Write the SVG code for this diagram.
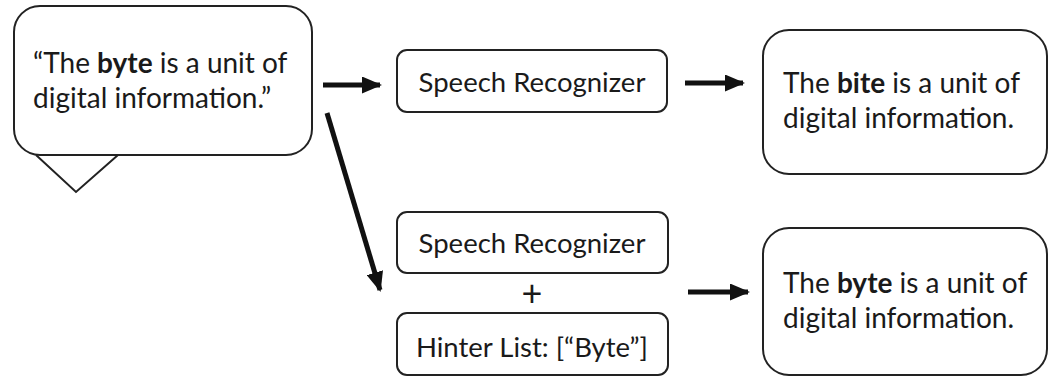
<svg xmlns="http://www.w3.org/2000/svg" width="1050" height="377" viewBox="0 0 1050 377">
<style>
.box{fill:#fff;stroke:#222;stroke-width:2}
.t{font-family:Lato,"Open Sans","Noto Sans",sans-serif;fill:#1a1a1a}
.big{font-size:28px}
.mid{font-size:27.5px}
.b{font-weight:bold}
.arr{stroke:#111;stroke-width:5;fill:none}
</style>
<defs>
<marker id="ah" markerWidth="4" markerHeight="3.4" refX="3.6" refY="1.7" orient="auto" markerUnits="strokeWidth">
<path d="M0,0 L4,1.7 L0,3.4 Z" fill="#111"/>
</marker>
</defs>
<rect width="1050" height="377" fill="#fff"/>
<g id="input">
<rect class="box" x="14" y="6" width="298" height="149" rx="26"/>
<polyline points="36,155 76,192 118,155" fill="none" stroke="#222" stroke-width="2"/>
<text class="t big" x="33" y="73">“The <tspan class="b">byte</tspan> is a unit of</text>
<text class="t big" x="33" y="108">digital information.”</text>
</g>
<g id="sr1">
<rect class="box" x="397" y="50" width="270" height="62" rx="10"/>
<text class="t mid" x="532" y="92" text-anchor="middle">Speech Recognizer</text>
</g>
<g id="out1">
<rect class="box" x="763" y="30" width="284" height="144" rx="26"/>
<text class="t big" x="783" y="93">The <tspan class="b">bite</tspan> is a unit of</text>
<text class="t big" x="783" y="128">digital information.</text>
</g>
<g id="sr2">
<rect class="box" x="397" y="212" width="271" height="61" rx="10"/>
<text class="t mid" x="532" y="253" text-anchor="middle">Speech Recognizer</text>
</g>
<g id="plus">
<text class="t" font-size="36" x="532" y="306" text-anchor="middle">+</text>
</g>
<g id="hinter">
<rect class="box" x="397" y="313" width="271" height="62" rx="10"/>
<text class="t mid" x="532" y="357" text-anchor="middle">Hinter List: [“Byte”]</text>
</g>
<g id="out2">
<rect class="box" x="763" y="228" width="284" height="147" rx="26"/>
<text class="t big" x="783" y="293">The <tspan class="b">byte</tspan> is a unit of</text>
<text class="t big" x="783" y="328">digital information.</text>
</g>
<g id="connectors">
<line class="arr" x1="323" y1="85" x2="380" y2="85" marker-end="url(#ah)"/>
<line class="arr" x1="685" y1="83" x2="743" y2="83" marker-end="url(#ah)"/>
<line class="arr" x1="327" y1="113" x2="380" y2="290" marker-end="url(#ah)"/>
<line class="arr" x1="688" y1="292" x2="748" y2="292" marker-end="url(#ah)"/>
</g>
</svg>
